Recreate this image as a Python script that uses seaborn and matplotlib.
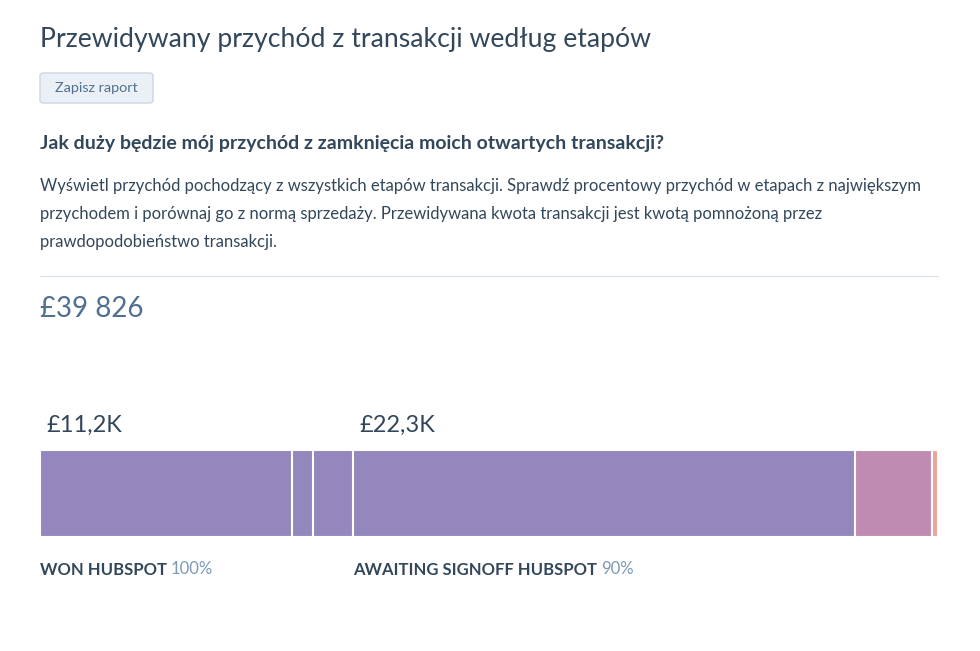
import numpy as np
import pandas as pd
import seaborn as sns
import matplotlib.pyplot as plt
from matplotlib.patches import FancyBboxPatch

# Data
stages = ["WON HUBSPOT", "", "", "AWAITING SIGNOFF HUBSPOT", "", ""]
probabilities = [100, None, None, 90, None, None]
amounts = [11160, 930, 1780, 22260, 3440, 256]
colors = ["#9487be", "#9487be", "#9487be", "#9487be", "#c08bb2", "#eea39a"]

title = "Przewidywany przychód z transakcji według etapów"
button = "Zapisz raport"
question = "Jak duży będzie mój przychód z zamknięcia moich otwartych transakcji?"
description = [
    "Wyświetl przychód pochodzący z wszystkich etapów transakcji. Sprawdź procentowy przychód w etapach z największym",
    "przychodem i porównaj go z normą sprzedaży. Przewidywana kwota transakcji jest kwotą pomnożoną przez",
    "prawdopodobieństwo transakcji.",
]

DARK = "#33475b"
MID = "#516f90"
LIGHT = "#7c98b6"

sns.set_theme(style="white")
plt.rcParams["font.family"] = ["Lato", "DejaVu Sans"]

W, H = 980, 651
fig = plt.figure(figsize=(W / 100, H / 100), dpi=100)

def fx(px):
    return px / W

def fy(py):
    return 1 - py / H

# header texts
fig.text(fx(40), fy(40), title, fontsize=19.2, color=DARK, va="center", ha="left")
fig.patches.append(FancyBboxPatch((fx(40), fy(103)), fx(113), 30 / H,
                                  boxstyle="round,pad=0,rounding_size=0.004",
                                  transform=fig.transFigure, facecolor="#eaf0f6",
                                  edgecolor="#cbd6e2", linewidth=1))
fig.text(fx(96.5), fy(88), button, fontsize=10.4, color=MID, va="center", ha="center")
fig.text(fx(40), fy(143), question, fontsize=14, color=DARK, va="center", ha="left",
         fontweight="bold")
for i, line in enumerate(description):
    fig.text(fx(40), fy(186 + 28 * i), line, fontsize=12, color=DARK, va="center", ha="left")
fig.add_artist(plt.Line2D([fx(40), fx(938)], [fy(276), fy(276)], color="#dfe3eb", lw=1))

total = sum(amounts)
total_str = f"£{total:,}".replace(",", " ")
fig.text(fx(40), fy(309), total_str, fontsize=20, color=MID, va="center", ha="left")

# stacked bar
ax = fig.add_axes([fx(40), fy(537), fx(898), 87 / H])
df = pd.DataFrame({"stage": range(len(amounts)), "amount": amounts, "color": colors})
df["end"] = np.cumsum(df["amount"])
df["start"] = df["end"] - df["amount"]

for _, row in df[::-1].iterrows():
    sns.barplot(x=[row["end"]], y=[0], orient="h", color=row["color"], width=1.0,
                edgecolor="white", linewidth=1.5, saturation=1, ax=ax)

ax.set_xlim(0, total)
ax.set_ylim(0.5, -0.5)
ax.axis("off")

fig.canvas.draw()
renderer = fig.canvas.get_renderer()
for _, row in df.iterrows():
    i = int(row["stage"])
    if amounts[i] / total < 0.2:
        continue
    val = f"£{amounts[i] / 1000:.1f}K".replace(".", ",")
    ax.annotate(val, xy=(row["start"], 1), xycoords=("data", "axes fraction"),
                xytext=(4.5, 18), textcoords="offset points",
                fontsize=17, color=DARK, ha="left", va="center")
    t = ax.annotate(stages[i], xy=(row["start"], 0), xycoords=("data", "axes fraction"),
                    xytext=(0, -23.5), textcoords="offset points",
                    fontsize=12, color=DARK, fontweight="bold", ha="left", va="center")
    bb = t.get_window_extent(renderer)
    fig.text((bb.x1 + 4) / W, fy(569), f"{probabilities[i]}%", fontsize=12,
             color=LIGHT, ha="left", va="center")

fig.savefig("out.png", dpi=100, facecolor="white")
